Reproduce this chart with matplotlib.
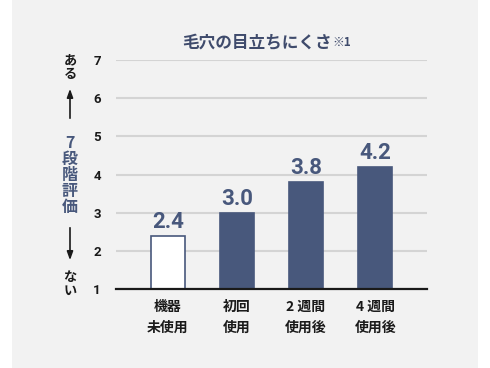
import matplotlib
matplotlib.use("Agg")
import matplotlib.pyplot as plt
from matplotlib.patches import Rectangle

# data
categories = ["機器\n未使用", "初回\n使用", "2 週間\n使用後", "4 週間\n使用後"]
scores = [2.4, 3.0, 3.8, 4.2]
y_ticks = [1, 2, 3, 4, 5, 6, 7]
title = "毛穴の目立ちにくさ"
note = "※1"

NAVY = "#48587c"
TITLE_NAVY = "#3f4b6c"
PANEL = "#f2f2f2"
GRID = "#d4d4d4"

plt.rcParams["font.family"] = ["Noto Sans CJK JP", "DejaVu Sans"]

fig = plt.figure(figsize=(4.9, 3.68), dpi=100, facecolor="white")
# gray panel behind the chart
fig.patches.append(Rectangle((12 / 490, 0), 466 / 490, 1, transform=fig.transFigure,
                             facecolor=PANEL, edgecolor="none", zorder=-10))

ax = fig.add_axes([116 / 490, 1 - 289 / 368, 311 / 490, 229 / 368])
ax.set_facecolor("none")

x = list(range(len(categories)))
colors = ["white"] + [NAVY] * (len(scores) - 1)
bars = ax.bar(x, [s - 1 for s in scores], bottom=1, width=0.5, color=colors,
              edgecolor=NAVY, linewidth=1.2, zorder=3)

for bar, s in zip(bars, scores):
    ax.annotate(f"{s:.1f}", (bar.get_x() + bar.get_width() / 2, s),
                xytext=(0, 2), textcoords="offset points", ha="center", va="bottom",
                fontsize=16, fontweight="bold", color=NAVY, family="Roboto")

ax.set_xlim(-0.75, len(categories) - 0.25)
ax.set_ylim(1, 7)
ax.set_yticks(y_ticks)
ax.set_yticklabels([str(t) for t in y_ticks], fontsize=9.5, fontweight="bold", family="Roboto")
ax.set_xticks(x)
ax.set_xticklabels(categories, fontsize=10, fontweight="bold", linespacing=1.6)
ax.tick_params(axis="both", length=0, colors="#1a1a1a")
ax.tick_params(axis="y", pad=11)
ax.tick_params(axis="x", pad=8)

ax.grid(axis="y", color=GRID, linewidth=1.5, zorder=0)
for side in ["top", "right", "left"]:
    ax.spines[side].set_visible(False)
ax.spines["bottom"].set_color("#1a1a1a")
ax.spines["bottom"].set_linewidth(1.6)
ax.spines["bottom"].set_zorder(4)

# title with small note mark
t = fig.text(257 / 490, 1 - 43 / 368, title, ha="center", va="center",
             fontsize=12, fontweight="bold", color=TITLE_NAVY)
fig.add_artist(plt.Annotation(note, xy=(1, 0.92), xycoords=t, xytext=(0.5, 0),
                              textcoords="offset points", ha="left", va="top",
                              fontsize=8.5, fontweight="bold", color=TITLE_NAVY))

# vertical scale label on the left
lx = 70 / 490
fig.text(lx, 1 - 67 / 368, "あ\nる", ha="center", va="center", fontsize=9.5,
         fontweight="bold", color="#1a1a1a", linespacing=1.0)
fig.text(lx, 1 - 175 / 368, "7\n段\n階\n評\n価", ha="center", va="center", fontsize=11.5,
         fontweight="bold", color=NAVY, linespacing=1.0)
fig.text(lx, 1 - 284 / 368, "な\nい", ha="center", va="center", fontsize=9.5,
         fontweight="bold", color="#1a1a1a", linespacing=1.0)
fig.add_artist(plt.Annotation("", xy=(lx, 1 - 86 / 368), xytext=(lx, 1 - 121 / 368),
                              xycoords="figure fraction", textcoords="figure fraction",
                              arrowprops=dict(arrowstyle="-|>,head_length=0.5,head_width=0.18",
                                              color="#1a1a1a", lw=1.2)))
fig.add_artist(plt.Annotation("", xy=(lx, 1 - 263 / 368), xytext=(lx, 1 - 225 / 368),
                              xycoords="figure fraction", textcoords="figure fraction",
                              arrowprops=dict(arrowstyle="-|>,head_length=0.5,head_width=0.18",
                                              color="#1a1a1a", lw=1.2)))

fig.savefig("out.png", dpi=100, facecolor=fig.get_facecolor())
